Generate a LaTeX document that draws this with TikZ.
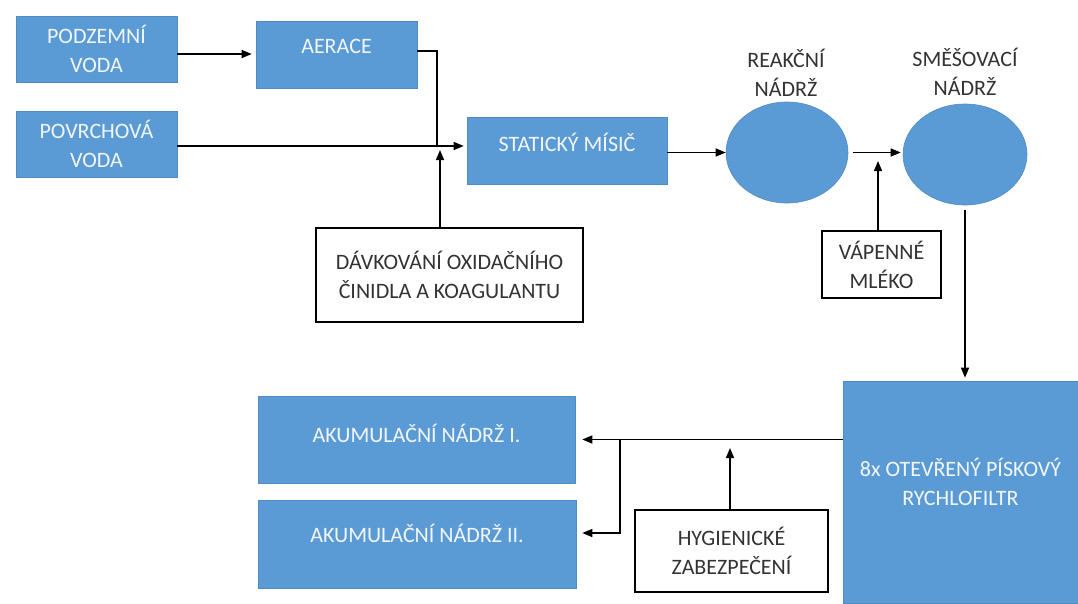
\documentclass[tikz,border=0pt]{standalone}
\usepackage{fontspec}
\setmainfont{Carlito}
\usetikzlibrary{arrows.meta}
\usetikzlibrary{shapes.geometric}
\definecolor{boxblue}{HTML}{5B9BD5}
\definecolor{wtxt}{HTML}{F2F6FB}
\definecolor{gtxt}{HTML}{333333}
\tikzset{
  txtfont/.style={font=\fontsize{22}{29}\selectfont},
  bluebox/.style={rectangle, fill=boxblue, draw=boxblue!90!black, line width=0.6pt, inner sep=0pt, text=wtxt, align=center, txtfont},
  whitebox/.style={rectangle, fill=white, draw=black, line width=1.2pt, inner sep=0pt, text=gtxt, align=center, txtfont},
  tank/.style={ellipse, fill=boxblue, draw=boxblue!90!black, line width=0.6pt, inner sep=0pt},
  wtext/.style={text=wtxt, align=center, txtfont},
  gtext/.style={text=gtxt, align=center, txtfont},
  conn/.style={draw=black, line width=1.4pt},
  arr/.style={conn, -{Triangle[length=10pt,width=8pt]}}
}
\begin{document}
\begin{tikzpicture}[x=1pt,y=-1pt]
\useasboundingbox (0,0) rectangle (1078,603);
\fill[white] (0,0) rectangle (1078,603);
% boxes
\node[bluebox, minimum width=161pt, minimum height=66pt] (pod) at (96.5,49) {PODZEMNÍ\\VODA};
\node[bluebox, minimum width=161pt, minimum height=67pt, label={[wtext,yshift=8pt]center:AERACE}] (aer) at (336.5,54.5) {};
\node[bluebox, minimum width=161pt, minimum height=66pt] (pov) at (96.5,144) {POVRCHOVÁ\\VODA};
\node[bluebox, minimum width=200pt, minimum height=67pt, label={[wtext,yshift=8pt]center:STATICKÝ MÍSIČ}] (stat) at (567,150.5) {};
\node[tank, minimum width=122pt, minimum height=101pt] (reak) at (787,152.5) {};
\node[tank, minimum width=124pt, minimum height=101pt] (smes) at (965,154.5) {};
\node[gtext] (reaklab) at (786,73) {REAKČNÍ\\NÁDRŽ};
\node[gtext] (smeslab) at (965,72) {SMĚŠOVACÍ\\NÁDRŽ};
\node[whitebox, minimum width=267pt, minimum height=94pt] (dav) at (449.5,275) {DÁVKOVÁNÍ OXIDAČNÍHO\\ČINIDLA A KOAGULANTU};
\node[whitebox, minimum width=119pt, minimum height=67pt] (vap) at (881.5,264.5) {VÁPENNÉ\\MLÉKO};
\node[bluebox, minimum width=235pt, minimum height=222pt, label={[wtext,yshift=10pt]center:8x OTEVŘENÝ PÍSKOVÝ\\RYCHLOFILTR}] (filt) at (960.5,492) {};
\node[bluebox, minimum width=317pt, minimum height=87pt, label={[wtext,yshift=6pt]center:AKUMULAČNÍ NÁDRŽ I.}] (ak1) at (416.5,439.5) {};
\node[bluebox, minimum width=318pt, minimum height=88pt, label={[wtext,yshift=11pt]center:AKUMULAČNÍ NÁDRŽ II.}] (ak2) at (417,544) {};
\node[whitebox, minimum width=193pt, minimum height=82pt] (hyg) at (731.5,551) {HYGIENICKÉ\\ZABEZPEČENÍ};
% junction coordinates
\coordinate (j1) at (437,146);
\coordinate (j2) at (440,150);
\coordinate (j3) at (878,161);
\coordinate (j4) at (730,448);
\coordinate (b1) at (620,439.5);
% connectors
\draw[arr, shorten >=4pt] ([yshift=-5pt]pod.east) -- ([yshift=-5pt]pod.east -| aer.west);
\draw[conn] ([yshift=3.5pt]aer.east) -| (j1);
\draw[arr, shorten >=3pt] ([yshift=-2pt]pov.east) -- ([yshift=-2pt]pov.east -| stat.west);
\draw[arr] (dav.north -| j2) -- (j2);
\draw[arr] (stat.east |- reak.west) -- (reak.west);
\draw[arr, shorten <=5pt, shorten >=2pt] (reak.east) -- (smes.west |- reak.east);
\draw[arr] (vap.north -| j3) -- (j3);
\draw[arr, shorten <=5pt, shorten >=3pt] (smes.south) -- (smes.south |- filt.north);
\draw[arr, shorten >=7pt] (filt.west |- ak1.east) -- (ak1.east);
\draw[arr, shorten >=6pt] (b1) |- ([yshift=11pt]ak2.east);
\draw[arr] (hyg.north -| j4) -- (j4);
\end{tikzpicture}
\end{document}
